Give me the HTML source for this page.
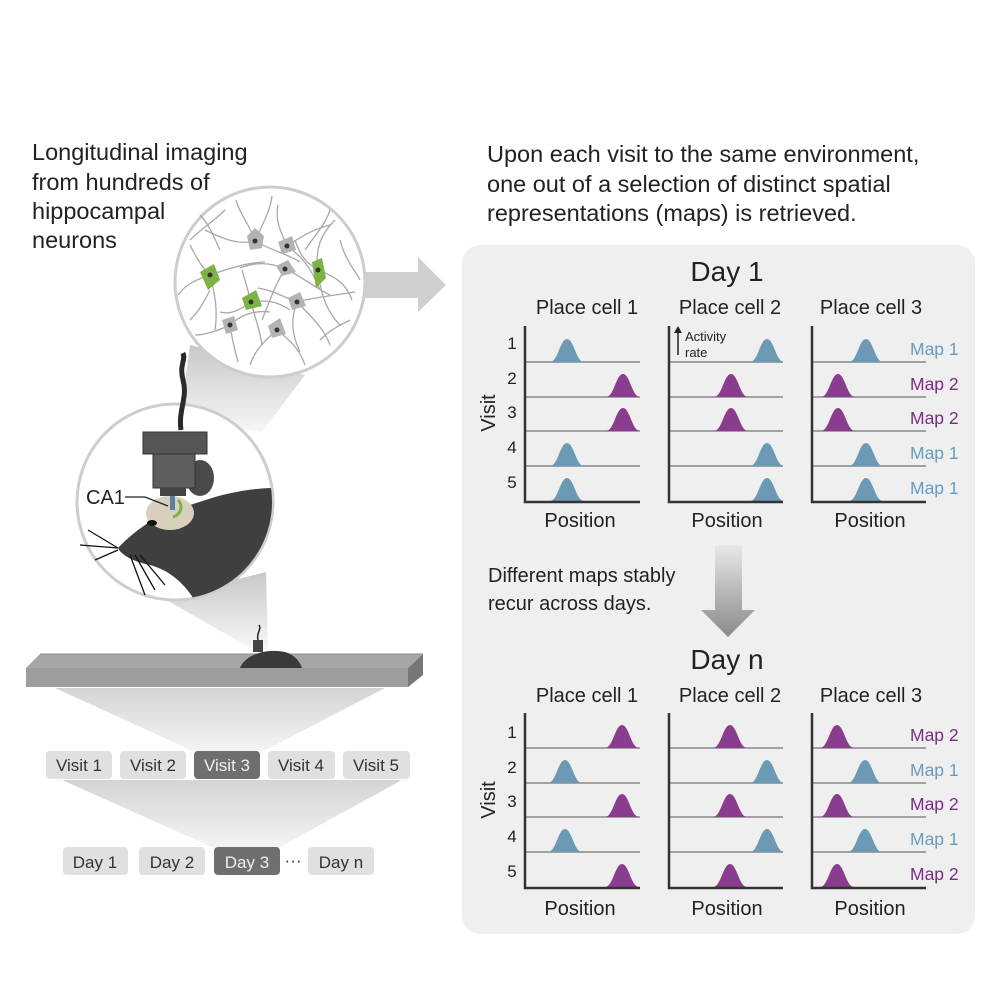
<!DOCTYPE html>
<html><head><meta charset="utf-8"><style>
html,body{margin:0;padding:0;background:#fff;}
svg{display:block;font-family:"Liberation Sans",Arial,sans-serif;}
</style></head><body>
<svg width="996" height="996" viewBox="0 0 996 996" xmlns="http://www.w3.org/2000/svg">
<defs>
<path id="pk" d="M-17,0 C-9,0 -7,-23 0,-23 C7,-23 9,0 17,0 Z"/>
<linearGradient id="cone" x1="0" y1="0" x2="0" y2="1"><stop offset="0" stop-color="#c8c8c8"/><stop offset="1" stop-color="#f7f7f7"/></linearGradient>
<linearGradient id="cone2" x1="0" y1="0" x2="0" y2="1"><stop offset="0" stop-color="#d4d4d4"/><stop offset="1" stop-color="#f4f4f4"/></linearGradient>
<linearGradient id="darr" x1="0" y1="0" x2="0" y2="1"><stop offset="0" stop-color="#e8e8e8"/><stop offset="1" stop-color="#8a8a8a"/></linearGradient>
<clipPath id="mc"><circle cx="175" cy="502" r="97"/></clipPath>
</defs>

<g font-size="23.5" fill="#222">
<text x="32" y="160">Longitudinal imaging</text>
<text x="32" y="190">from hundreds of</text>
<text x="32" y="219">hippocampal</text>
<text x="32" y="248">neurons</text>
<text x="487" y="162">Upon each visit to the same environment,</text>
<text x="487" y="192">one out of a selection of distinct spatial</text>
<text x="487" y="221">representations (maps) is retrieved.</text>
</g>

<polygon points="190,345 305,375 262,432 180,420" fill="url(#cone)"/>
<polygon points="163,598 266,572 268,650 250,648" fill="url(#cone)"/>
<polygon points="55,688 385,688 262,752 195,752" fill="url(#cone2)"/>
<polygon points="62,780 402,780 278,848 214,848" fill="url(#cone2)"/>

<polygon points="360,272 418,272 418,257 446,285 418,312 418,298 360,298" fill="#cfcfcf"/>

<circle cx="270" cy="282" r="95" fill="#fff" stroke="#cdcdcd" stroke-width="3"/>
<g fill="none" stroke="#a8a8a8" stroke-width="1.3">
<path d="M255,241 C250,225 240,215 236,200"/><path d="M255,241 C262,225 270,212 272,196"/>
<path d="M255,241 C240,245 225,240 205,230"/><path d="M255,241 C270,250 290,255 300,262"/>
<path d="M287,246 C300,238 310,230 330,225"/><path d="M287,246 C280,230 275,220 278,205"/>
<path d="M287,246 C300,255 310,265 320,290"/>
<path d="M285,269 C270,262 255,262 240,268"/><path d="M285,269 C300,275 310,285 330,295"/>
<path d="M285,269 C275,285 270,300 262,320"/>
<path d="M297,302 C310,298 330,296 355,292"/><path d="M297,302 C290,320 292,335 300,352"/>
<path d="M297,302 C280,295 270,290 258,288"/><path d="M297,302 C310,315 325,330 330,345"/>
<path d="M230,325 C220,330 205,335 195,335"/><path d="M230,325 C232,340 235,350 238,362"/>
<path d="M230,325 C240,315 255,310 270,312"/>
<path d="M277,330 C265,340 255,350 250,365"/><path d="M277,330 C290,340 300,350 305,365"/>
<path d="M210,275 C200,265 195,255 190,245"/><path d="M210,275 C195,280 185,285 178,295"/>
<path d="M210,275 C230,268 250,262 265,262"/><path d="M210,275 C215,295 218,310 215,330"/>
<path d="M318,270 C315,250 320,235 335,220"/><path d="M318,270 C330,275 345,280 352,300"/>
<path d="M318,270 C320,290 325,310 340,325"/><path d="M318,270 C305,262 300,255 295,240"/>
<path d="M251,302 C240,310 230,315 220,312"/><path d="M251,302 C265,300 275,300 290,310"/>
<path d="M251,302 C248,290 245,280 242,270"/><path d="M251,302 C255,318 260,330 262,345"/>
<path d="M190,240 C200,230 215,220 225,210"/><path d="M340,240 C345,260 355,270 360,280"/>
<path d="M200,215 C210,225 215,240 220,250"/><path d="M330,210 C325,225 315,235 305,250"/>
<path d="M190,320 C200,310 205,300 210,290"/><path d="M320,340 C330,330 340,325 350,320"/>
</g>
<g fill="#b3b3b3"><path d="M247,236 L255,228 L264,236 L262,248 L250,250 Z"/><path d="M278,242 L292,236 L296,250 L282,254 Z"/><path d="M276,266 L288,260 L296,272 L282,276 Z"/><path d="M288,298 L300,292 L306,306 L292,310 Z"/><path d="M222,320 L234,316 L238,330 L226,334 Z"/><path d="M268,326 L280,318 L286,334 L272,338 Z"/></g>
<g fill="#7cb342"><path d="M200,272 L214,264 L220,280 L208,290 Z"/><path d="M312,262 L322,258 L326,278 L316,288 Z"/><path d="M242,298 L256,290 L262,306 L246,310 Z"/></g>
<g fill="#333"><circle cx="255" cy="241" r="2.5"/><circle cx="287" cy="246" r="2.5"/><circle cx="285" cy="269" r="2.5"/><circle cx="297" cy="302" r="2.5"/><circle cx="230" cy="325" r="2.5"/><circle cx="277" cy="330" r="2.5"/><circle cx="210" cy="275" r="2.5"/><circle cx="318" cy="270" r="2.5"/><circle cx="251" cy="302" r="2.5"/></g>

<circle cx="175" cy="502" r="98" fill="#fff" stroke="#cdcdcd" stroke-width="3"/>
<g clip-path="url(#mc)">
<path d="M118,548 C135,530 160,512 190,505 L215,497 C240,490 260,488 275,488 L275,610 L200,610 C190,590 175,572 150,565 C135,562 122,556 118,548 Z" fill="#3f3f3f"/>
<ellipse cx="200" cy="478" rx="14" ry="18" fill="#4a4a4a"/>
<ellipse cx="170" cy="513" rx="24" ry="17" fill="#d8d0bd"/>
<ellipse cx="152" cy="523" rx="5" ry="3" fill="#111"/>
</g>
<path d="M173,517 C182,514 183,505 178,500" stroke="#7cb342" stroke-width="3" fill="none"/>
<rect x="170" y="494" width="5" height="16" fill="#5b7fa6"/>
<path d="M118,548 L88,530 M118,548 L80,545 M118,550 L95,560 M130,555 L145,595 M135,555 L155,590 M140,555 L165,585" stroke="#111" stroke-width="1.3"/>
<path d="M181,430 C178,410 188,398 183,380 C179,365 186,360 183,353" stroke="#2a2a2a" stroke-width="5" fill="none"/>
<rect x="143" y="432" width="64" height="22" fill="#555" stroke="#333"/>
<rect x="153" y="454" width="42" height="34" fill="#5e5e5e" stroke="#333"/>
<rect x="160" y="488" width="26" height="8" fill="#444"/>
<text x="86" y="504" font-size="20" fill="#222">CA1</text>
<path d="M125,497 L145,497 L168,506" stroke="#222" stroke-width="1.3" fill="none"/>

<polygon points="40,654 423,654 408,668 26,668" fill="#a6a6a6"/>
<polygon points="26,668 408,668 408,687 26,687" fill="#9d9d9d"/>
<polygon points="408,668 423,654 423,675 408,687" fill="#777"/>
<line x1="40" y1="654" x2="423" y2="654" stroke="#8a8a8a"/>
<path d="M240,668 C245,655 265,648 285,652 C295,655 300,662 302,668 Z" fill="#3a3a3a"/>
<rect x="253" y="640" width="10" height="12" fill="#444"/>
<path d="M258,640 C256,632 262,630 259,625" stroke="#222" stroke-width="1.5" fill="none"/>

<g font-size="17" text-anchor="middle">
<rect x="46" y="751" width="66" height="28" rx="4" fill="#e0e0e0"/><text x="79" y="771" fill="#333">Visit 1</text>
<rect x="120" y="751" width="66" height="28" rx="4" fill="#e0e0e0"/><text x="153" y="771" fill="#333">Visit 2</text>
<rect x="194" y="751" width="66" height="28" rx="4" fill="#6f6f6f"/><text x="227" y="771" fill="#eee">Visit 3</text>
<rect x="268" y="751" width="67" height="28" rx="4" fill="#e0e0e0"/><text x="301" y="771" fill="#333">Visit 4</text>
<rect x="343" y="751" width="67" height="28" rx="4" fill="#e0e0e0"/><text x="376" y="771" fill="#333">Visit 5</text>
<rect x="63" y="847" width="65" height="28" rx="4" fill="#e0e0e0"/><text x="95" y="868" fill="#333">Day 1</text>
<rect x="139" y="847" width="66" height="28" rx="4" fill="#e0e0e0"/><text x="172" y="868" fill="#333">Day 2</text>
<rect x="214" y="847" width="66" height="28" rx="4" fill="#6f6f6f"/><text x="247" y="868" fill="#eee">Day 3</text>
<text x="293" y="866" fill="#333">···</text>
<rect x="308" y="847" width="66" height="28" rx="4" fill="#e0e0e0"/><text x="341" y="868" fill="#333">Day n</text>
</g>

<rect x="462" y="245" width="513" height="689" rx="18" fill="#efefef"/>
<g text-anchor="middle" fill="#222">
<text x="727" y="281" font-size="28">Day 1</text>
<text x="727" y="669" font-size="28">Day n</text>
<g font-size="20">
<text x="587" y="314">Place cell 1</text><text x="730" y="314">Place cell 2</text><text x="871" y="314">Place cell 3</text>
<text x="587" y="702">Place cell 1</text><text x="730" y="702">Place cell 2</text><text x="871" y="702">Place cell 3</text>
<text x="580" y="527">Position</text><text x="727" y="527">Position</text><text x="870" y="527">Position</text>
<text x="580" y="915">Position</text><text x="727" y="915">Position</text><text x="870" y="915">Position</text>
</g>
<g font-size="17">
<text x="512" y="349">1</text><text x="512" y="384">2</text><text x="512" y="418">3</text><text x="512" y="453">4</text><text x="512" y="488">5</text>
<text x="512" y="738">1</text><text x="512" y="773">2</text><text x="512" y="807">3</text><text x="512" y="842">4</text><text x="512" y="877">5</text>
</g>
<text font-size="20" transform="translate(495,413) rotate(-90)">Visit</text>
<text font-size="20" transform="translate(495,800) rotate(-90)">Visit</text>
</g>
<g font-size="20" fill="#222"><text x="488" y="582">Different maps stably</text><text x="488" y="610">recur across days.</text></g>
<polygon points="715,545 742,545 742,610 755,610 728,637 701,610 715,610" fill="url(#darr)"/>

<g stroke="#888" stroke-width="1.5">
<path d="M525,362H640M525,397H640M525,431H640M525,466H640"/>
<path d="M669,362H783M669,397H783M669,431H783M669,466H783"/>
<path d="M812,362H926M812,397H926M812,431H926M812,466H926"/>
<path d="M525,748H640M525,783H640M525,817H640M525,852H640"/>
<path d="M669,748H783M669,783H783M669,817H783M669,852H783"/>
<path d="M812,748H926M812,783H926M812,817H926M812,852H926"/>
</g>
<g fill="#6c9ab5">
<use href="#pk" x="567" y="362"/><use href="#pk" x="567" y="466"/><use href="#pk" x="567" y="501"/>
<use href="#pk" x="767" y="362"/><use href="#pk" x="767" y="466"/><use href="#pk" x="767" y="501"/>
<use href="#pk" x="866" y="362"/><use href="#pk" x="866" y="466"/><use href="#pk" x="866" y="501"/>
<use href="#pk" x="565" y="783"/><use href="#pk" x="565" y="852"/>
<use href="#pk" x="767" y="783"/><use href="#pk" x="767" y="852"/>
<use href="#pk" x="865" y="783"/><use href="#pk" x="865" y="852"/>
</g>
<g fill="#8a3d8e">
<use href="#pk" x="623" y="397"/><use href="#pk" x="623" y="431"/>
<use href="#pk" x="731" y="397"/><use href="#pk" x="731" y="431"/>
<use href="#pk" x="838" y="397"/><use href="#pk" x="838" y="431"/>
<use href="#pk" x="622" y="748"/><use href="#pk" x="622" y="817"/><use href="#pk" x="622" y="887"/>
<use href="#pk" x="730" y="748"/><use href="#pk" x="730" y="817"/><use href="#pk" x="730" y="887"/>
<use href="#pk" x="837" y="748"/><use href="#pk" x="837" y="817"/><use href="#pk" x="837" y="887"/>
</g>
<g stroke="#333" stroke-width="2.5" fill="none">
<path d="M525,326V502H640M669,326V502H783M812,326V502H926"/>
<path d="M525,713V888H640M669,713V888H783M812,713V888H926"/>
</g>
<path d="M678,355V331" stroke="#222" stroke-width="1.5"/><polygon points="674,333 678,326 682,333" fill="#222"/>
<g font-size="13" fill="#222"><text x="685" y="341">Activity</text><text x="685" y="357">rate</text></g>
<g font-size="17.5">
<text x="910" y="355" fill="#6a9cbf">Map 1</text><text x="910" y="390" fill="#7d2a86">Map 2</text><text x="910" y="424" fill="#7d2a86">Map 2</text><text x="910" y="459" fill="#6a9cbf">Map 1</text><text x="910" y="494" fill="#6a9cbf">Map 1</text>
<text x="910" y="741" fill="#7d2a86">Map 2</text><text x="910" y="776" fill="#6a9cbf">Map 1</text><text x="910" y="810" fill="#7d2a86">Map 2</text><text x="910" y="845" fill="#6a9cbf">Map 1</text><text x="910" y="880" fill="#7d2a86">Map 2</text>
</g>
</svg>
</body></html>
